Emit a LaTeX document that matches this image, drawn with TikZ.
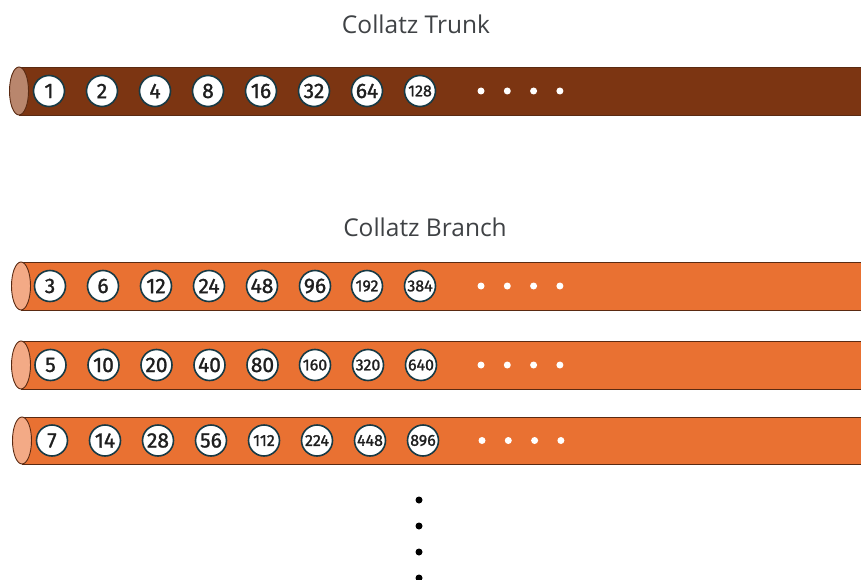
\documentclass[tikz,border=0pt]{standalone}
\usepackage{fontspec}
\setmainfont{Fira Sans}
\newfontfamily\numfont{Fira Sans}[FakeBold=1.2]
\newfontfamily\titlefont{Open Sans}
\definecolor{trunkbody}{HTML}{7C3512}
\definecolor{trunkcap}{HTML}{B9866D}
\definecolor{branchbody}{HTML}{E97132}
\definecolor{branchcap}{HTML}{F3AA86}
\definecolor{pipeedge}{HTML}{5A2A12}
\definecolor{ringedge}{HTML}{173A45}
\definecolor{titlegray}{HTML}{3F4245}
\tikzset{
  numball/.style={circle, draw=ringedge, line width=1.6pt, fill=white, minimum size=31pt, inner sep=0pt, text=black!88, font=\numfont\fontsize{21}{21}\selectfont},
  smallnum/.style={font=\numfont\fontsize{16}{16}\selectfont},
  wdot/.style={circle, fill=white, minimum size=7pt, inner sep=0pt},
  bdot/.style={circle, fill=black, minimum size=7pt, inner sep=0pt},
  titletext/.style={font=\titlefont\fontsize{24.5}{24.5}\selectfont, text=titlegray},
}
\newcommand{\pipe}[6]{% cx, cy, ry, rx, body, cap
  \fill[#5] (#1,#2-#3) rectangle (880,#2+#3);
  \draw[pipeedge, line width=0.9pt] (#1,#2-#3) -- (880,#2-#3);
  \draw[pipeedge, line width=0.9pt] (#1,#2+#3) -- (880,#2+#3);
  \draw[pipeedge, line width=0.9pt, fill=#6] (#1,#2) ellipse [x radius=#4, y radius=#3];
}
\begin{document}
\begin{tikzpicture}[x=1pt, y=-1pt]
\useasboundingbox (0,0) rectangle (861,580);
\node[titletext] (t1) at (416,24) {Collatz Trunk};
\node[titletext] (t2) at (425,227) {Collatz Branch};
\pipe{19}{91}{24}{9.5}{trunkbody}{trunkcap}
\pipe{21}{286}{24}{9.5}{branchbody}{branchcap}
\pipe{21}{365}{24}{9.5}{branchbody}{branchcap}
\pipe{22}{440.5}{23.5}{9.5}{branchbody}{branchcap}
% trunk
\foreach \v [count=\k from 0] in {1,2,4,8,16,32,64}
  \node[numball] (a\k) at (49+53*\k,91) {\v};
\node[numball, smallnum] (a7) at (420,91) {128};
% branch 1
\foreach \v [count=\k from 0] in {3,6,12,24,48,96}
  \node[numball] (b\k) at (50+53*\k,286) {\v};
\node[numball, smallnum] (b6) at (367,286) {192};
\node[numball, smallnum] (b7) at (420,286) {384};
% branch 2
\foreach \v [count=\k from 0] in {5,10,20,40,80}
  \node[numball] (c\k) at (50.5+53*\k,365) {\v};
\node[numball, smallnum] (c5) at (315,365) {160};
\node[numball, smallnum] (c6) at (368,365) {320};
\node[numball, smallnum] (c7) at (421,365) {640};
% branch 3
\foreach \v [count=\k from 0] in {7,14,28,56}
  \node[numball] (d\k) at (52+53*\k,440.5) {\v};
\node[numball, smallnum] (d4) at (264,440.5) {112};
\node[numball, smallnum] (d5) at (317,440.5) {224};
\node[numball, smallnum] (d6) at (370,440.5) {448};
\node[numball, smallnum] (d7) at (423,440.5) {896};
% white ellipsis dots
\foreach \k in {0,1,2,3} {
  \node[wdot] (ta\k) at (481+26.3*\k,91) {};
  \node[wdot] (tb\k) at (481+26.3*\k,286) {};
  \node[wdot] (tc\k) at (481+26.3*\k,365) {};
  \node[wdot] (td\k) at (482+26.3*\k,440.5) {};
}
% vertical dots
\foreach \k in {0,1,2,3}
  \node[bdot] (v\k) at (419,500+26*\k) {};
\end{tikzpicture}
\end{document}
